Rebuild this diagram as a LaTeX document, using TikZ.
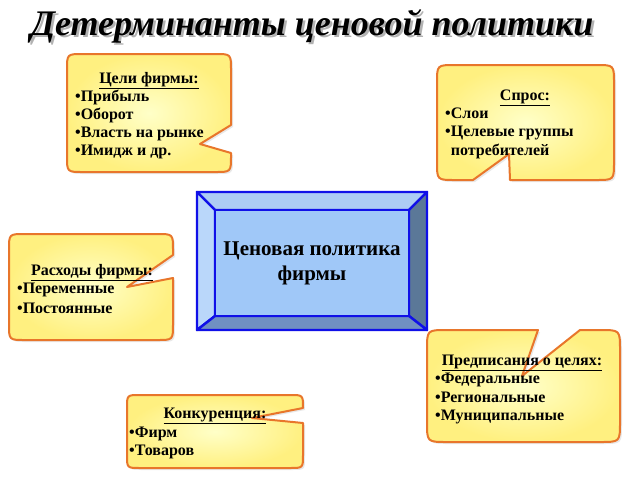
\documentclass[tikz,border=0pt]{standalone}
\usepackage{fontspec}
\setmainfont{Liberation Serif}
\usetikzlibrary{shadows}
\definecolor{cin}{HTML}{FFFFC8}
\definecolor{cout}{HTML}{FFF080}
\definecolor{cline}{HTML}{E8762B}
\definecolor{bblue}{HTML}{1010E8}
\definecolor{bface}{HTML}{A0C8F8}
\definecolor{btop}{HTML}{ADCCF4}
\definecolor{bleft}{HTML}{BAD7FA}
\definecolor{bright}{HTML}{5B7898}
\definecolor{bbottom}{HTML}{7090C2}
\tikzset{
  callout/.style={shade, inner color=cin, outer color=cout, draw=cline, line width=2pt, line join=round,
    drop shadow={opacity=0.18, shadow xshift=2pt, shadow yshift=-2pt}},
  bevel/.style={draw=bblue, line width=2.4pt, line join=round},
  txt/.style={font=\fontsize{16}{19}\selectfont\bfseries, inner sep=0pt, anchor=base west},
  ttl/.style={font=\fontsize{16}{19}\selectfont\bfseries, inner sep=0pt, anchor=base},
}
\begin{document}
\begin{tikzpicture}[x=1pt,y=-1pt]
\useasboundingbox[fill=white] (0,0) rectangle (640,480);

% title
\node[font=\fontsize{36}{40}\selectfont\bfseries\itshape, text=black!30, inner sep=0pt, anchor=base] (titleshadow) at (314.5,37.5) {Детерминанты ценовой политики};
\node[font=\fontsize{36}{40}\selectfont\bfseries\itshape, inner sep=0pt, anchor=base] (title) at (312,35) {Детерминанты ценовой политики};

% central bevel box
\path[bevel, fill=btop] (197,192) -- (427,192) -- (409,210) -- (215,210) -- cycle;
\path[bevel, fill=bleft] (197,192) -- (215,210) -- (215,316) -- (197,330) -- cycle;
\path[bevel, fill=bright] (427,192) -- (427,330) -- (409,316) -- (409,210) -- cycle;
\path[bevel, fill=bbottom] (197,330) -- (427,330) -- (409,316) -- (215,316) -- cycle;
\node[bevel, fill=bface, minimum width=194pt, minimum height=106pt, inner sep=0pt,
  font=\fontsize{21}{25}\selectfont\bfseries, align=center] (center) at (312,263) {Ценовая политика\\фирмы};

% callout 1: Цели фирмы
\path[callout] (231,125) -- (231,70) .. controls (231,54) .. (215,54) -- (83,54) .. controls (67,54) .. (67,70) -- (67,156) .. controls (67,172) .. (83,172) -- (215,172) .. controls (231,172) .. (231,156) -- (231,153) -- (200,144) -- cycle;
\node[ttl] (t1) at (149,83) {\underline{Цели фирмы:}};
\node[txt] (t1a) at (75,101) {•Прибыль};
\node[txt] (t1b) at (75,119) {•Оборот};
\node[txt] (t1c) at (75,137) {•Власть на рынке};
\node[txt] (t1d) at (75,155) {•Имидж и др.};

% callout 2: Спрос
\path[callout] (473,180) -- (455,180) .. controls (437,180) .. (437,162) -- (437,83) .. controls (437,65) .. (455,65) -- (596,65) .. controls (614,65) .. (614,83) -- (614,162) .. controls (614,180) .. (596,180) -- (510,180) -- (509,154) -- cycle;
\node[ttl] (t2) at (525,100) {\underline{Спрос:}};
\node[txt] (t2a) at (445,118) {•Слои};
\node[txt] (t2b) at (445,136) {•Целевые группы};
\node[txt] (t2c) at (445,155) {\phantom{•}потребителей};

% callout 3: Расходы фирмы
\path[callout] (173,255) -- (173,250) .. controls (173,234) .. (157,234) -- (25,234) .. controls (9,234) .. (9,250) -- (9,324) .. controls (9,340) .. (25,340) -- (157,340) .. controls (173,340) .. (173,324) -- (173,278) -- (127,287) -- cycle;
\node[ttl] (t3) at (92,275) {\underline{Расходы фирмы:}};
\node[txt] (t3a) at (17,293) {•Переменные};
\node[txt] (t3b) at (17,313) {•Постоянные};

% callout 4: Предписания о целях
\path[callout] (538,330) -- (447,330) .. controls (427,330) .. (427,350) -- (427,422) .. controls (427,442) .. (447,442) -- (600,442) .. controls (620,442) .. (620,422) -- (620,350) .. controls (620,330) .. (600,330) -- (580,330) -- (522,376) -- cycle;
\node[ttl] (t4) at (522,365) {\underline{Предписания о целях:}};
\node[txt] (t4a) at (435,383) {•Федеральные};
\node[txt] (t4b) at (435,402) {•Региональные};
\node[txt] (t4c) at (435,420) {•Муниципальные};

% callout 5: Конкуренция
\path[callout] (303,408) .. controls (303,395) .. (290,395) -- (140,395) .. controls (127,395) .. (127,408) -- (127,455) .. controls (127,468) .. (140,468) -- (290,468) .. controls (303,468) .. (303,455) -- (303,423) -- (252,418) -- cycle;
\node[ttl] (t5) at (215,418) {\underline{Конкуренция:}};
\node[txt] (t5a) at (129,437) {•Фирм};
\node[txt] (t5b) at (129,455) {•Товаров};
\end{tikzpicture}
\end{document}
